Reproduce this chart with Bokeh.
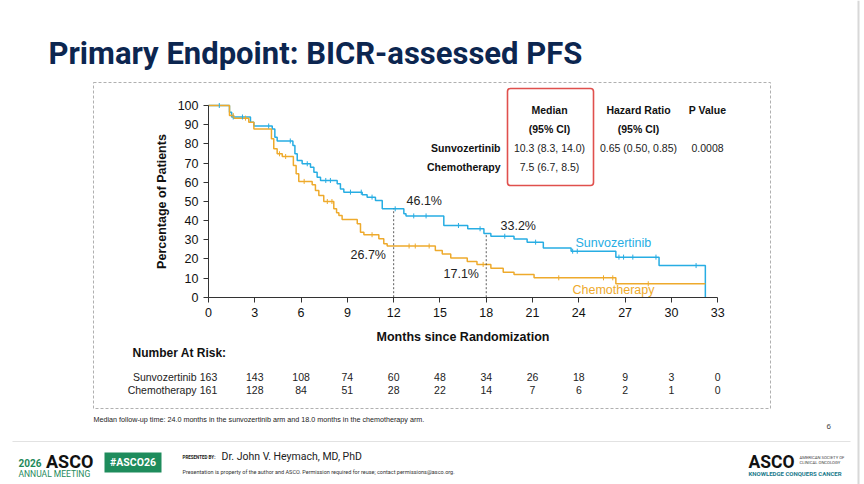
import numpy as np
from bokeh.plotting import figure
from bokeh.models import Range1d, LinearAxis, FixedTicker, Label, BoxAnnotation, ColumnDataSource
from bokeh.core.properties import value
from bokeh.embed import file_html
from bokeh.resources import INLINE

# ---------------- data ----------------
sun_t = [0, 1.36, 1.5, 2.72, 2.94, 4.13, 4.3, 4.45, 5.47, 5.6, 5.75, 6.07, 6.61, 6.83, 7.04, 7.26,
         8.34, 8.55, 8.77, 9.96, 10.28, 10.82, 11.26, 12.66, 12.8, 15.25, 16.8, 17.85, 18.3,
         19.8, 20.65, 21.7, 23.5, 26.4, 29.2, 32.2]
sun_s = [100, 96.5, 94.0, 91.3, 89.3, 87.8, 83.5, 81.5, 79.1, 74.8, 71.3, 69.6, 67.8, 65.2, 62.6, 60.9,
         59.2, 56.5, 54.8, 53.4, 52.2, 50.4, 46.1, 43.5, 42.4, 37.4, 35.7, 33.2, 31.8,
         30.4, 28.7, 25.6, 24.0, 20.9, 16.5, 0]
chemo_t = [0, 1.36, 1.64, 2.61, 2.94, 4.08, 4.23, 4.45, 4.78, 5.5, 5.68, 5.85, 6.72, 6.93, 7.15, 7.47,
           8.12, 8.3, 8.45, 8.66, 9.64, 9.85, 10.07, 11.04, 11.36, 11.58, 14.7, 15.15, 15.7, 16.77,
           17.4, 18.3, 19.1, 19.8, 21.1, 26.4, 32.2]
chemo_s = [100, 94.8, 93.4, 91.3, 87.8, 82.6, 77.4, 74.8, 73.4, 68.7, 64.4, 60.4, 58.6, 55.7, 53.1, 49.9,
           46.1, 44.0, 42.6, 40.5, 38.3, 33.9, 32.6, 30.5, 27.9, 26.7, 24.4, 22.6, 20.4, 18.6,
           17.1, 15.1, 13.0, 11.8, 10.1, 7.0, 7.0]
sun_cens = [0.7, 1.6, 2.2, 3.9, 5.3, 6.4, 7.6, 7.9, 9.2, 9.9, 10.6, 12.1, 13.3, 14.1, 16.2, 17.6,
            19.2, 21.2, 23.6, 23.9, 26.6, 26.9, 27.5, 29.0, 31.6]
chemo_cens = [1.6, 2.4, 4.6, 5.0, 6.2, 7.7, 8.0, 10.6, 13.0, 13.4, 14.3, 17.8, 22.7, 25.6, 26.2, 28.5]

landmark_t = [12, 18]
landmark_sun = [46.1, 33.2]
landmark_chemo = [26.7, 17.1]

x_ticks = [0, 3, 6, 9, 12, 15, 18, 21, 24, 27, 30, 33]
y_ticks = [0, 10, 20, 30, 40, 50, 60, 70, 80, 90, 100]
risk_t = [0, 3, 6, 9, 12, 15, 18, 21, 24, 27, 30, 33]
risk_sun = [163, 143, 108, 74, 60, 48, 34, 26, 18, 9, 3, 0]
risk_chemo = [161, 128, 84, 51, 28, 22, 14, 7, 6, 2, 1, 0]

table_cols = ["Median\n(95% CI)", "Hazard Ratio\n(95% CI)", "P Value"]
table_rows = ["Sunvozertinib", "Chemotherapy"]
table_vals = [["10.3 (8.3, 14.0)", "0.65 (0.50, 0.85)", "0.0008"],
              ["7.5 (6.7, 8.5)", "", ""]]

# ---------------- geometry (pixel mapping) ----------------
W, H = 864, 484
X0, PX = 208.0, 15.43   # px of month 0, px per month
Y0, PY = 296.7, 1.917   # px of 0 %, px per %

def fx(px):
    return (px - X0) / PX

def fy(py):
    return (Y0 - py) / PY

CYAN = "#27ade3"
ORANGE = "#eeaa2c"
NAVY = "#0c2650"
FONT = "Liberation Sans"
NARROW = "Roboto"

p = figure(width=W, height=H, output_backend="svg", toolbar_location=None,
           x_range=Range1d(fx(0), fx(W)), y_range=Range1d(fy(H), fy(0)),
           x_axis_type=None, y_axis_type=None, min_border=0,
           background_fill_color="white", border_fill_color="white")
p.grid.visible = False
p.outline_line_color = None

# axes
xa = LinearAxis(fixed_location=0, bounds=(0, 33), ticker=FixedTicker(ticks=x_ticks))
ya = LinearAxis(fixed_location=0, bounds=(0, 100), ticker=FixedTicker(ticks=y_ticks))
for ax in (xa, ya):
    ax.axis_line_color = "#333333"
    ax.major_tick_line_color = "#333333"
    ax.major_tick_out = 5
    ax.major_tick_in = 0
    ax.minor_tick_line_color = None
    ax.major_label_text_font = FONT
    ax.major_label_text_font_size = "12.5px"
    ax.major_label_text_color = "#111111"
    ax.axis_label_text_font = FONT
    ax.axis_label_text_font_style = "bold"
    ax.axis_label_text_font_size = "12.5px"
    ax.axis_label_text_color = "#111111"
xa.axis_label = "Months since Randomization"
xa.major_label_standoff = 6
xa.axis_label_standoff = 9
ya.axis_label = "Percentage of Patients"
ya.major_label_standoff = 5
ya.axis_label_standoff = 6
p.add_layout(xa, "below")
p.add_layout(ya, "left")

# outer dashed frame
p.add_layout(BoxAnnotation(left=fx(93), right=fx(770), top=fy(82), bottom=fy(408),
                           fill_alpha=0, line_color="#b0b0b0", line_alpha=1,
                           line_dash="3 2", line_width=1))
# red box around medians
p.add_layout(BoxAnnotation(left=fx(507), right=fx(593), top=fy(88), bottom=fy(185),
                           fill_alpha=0, line_color="#e0504d", line_alpha=1,
                           line_width=1.6, border_radius=3))

# curves
p.step(sun_t, sun_s, mode="after", line_color=CYAN, line_width=1.5)
p.step(chemo_t, chemo_s, mode="after", line_color=ORANGE, line_width=1.5)

def surv_at(ts, ss, t):
    idx = np.searchsorted(np.array(ts), np.array(t), side="right") - 1
    return list(np.array(ss)[idx])

p.scatter(sun_cens, surv_at(sun_t, sun_s, sun_cens), marker="dash", angle=np.pi / 2,
          size=5, line_color=CYAN, line_width=1)
p.scatter(chemo_cens, surv_at(chemo_t, chemo_s, chemo_cens), marker="dash", angle=np.pi / 2,
          size=5, line_color=ORANGE, line_width=1)

# landmark dotted lines
p.segment(x0=landmark_t, y0=[0, 0], x1=landmark_t, y1=landmark_sun,
          line_color="#333333", line_dash="2 2", line_width=0.8)

def lab(px, py, text, size="12px", color="#111111", align="left", baseline="middle",
        style="normal", font=FONT, angle=0):
    p.add_layout(Label(x=fx(px), y=fy(py), text=text, text_font=font,
                       text_font_size=size, text_color=color, text_align=align,
                       text_baseline=baseline, text_font_style=style, angle=angle))

# landmark annotations
lab(406, 200, f"{landmark_sun[0]}%", size="12.5px", color="#222222")
lab(500, 225, f"{landmark_sun[1]}%", size="12.5px", color="#222222")
lab(350, 254, f"{landmark_chemo[0]}%", size="12.5px", color="#222222")
lab(443, 273, f"{landmark_chemo[1]}%", size="12.5px", color="#222222")
lab(575, 242, "Sunvozertinib", size="12.5px", color=CYAN)
lab(572, 289, "Chemotherapy", size="12.5px", color=ORANGE)

# summary table
col_x = [549, 638, 707]
for cx, head in zip(col_x, table_cols):
    parts = head.split("\n")
    lab(cx, 109, parts[0], size="10.5px", align="center", style="bold")
    if len(parts) > 1:
        lab(cx, 128, parts[1], size="10.5px", align="center", style="bold")
row_y = [147, 166]
for ry, rname, rvals in zip(row_y, table_rows, table_vals):
    lab(500, ry, rname, size="10.5px", align="right", style="bold")
    for cx, v in zip(col_x, rvals):
        if v:
            lab(cx, ry, v, size="10.5px", align="center", color="#222222")

# number at risk
lab(132, 352, "Number At Risk:", size="12px", style="bold")
src_r = ColumnDataSource(dict(t=risk_t, s=[fy(376)] * len(risk_t), c=[fy(389)] * len(risk_t),
                              a=[str(v) for v in risk_sun], b=[str(v) for v in risk_chemo]))
p.text(x="t", y="s", text="a", source=src_r, text_font=value(FONT), text_font_size="10.5px",
       text_align="center", text_baseline="middle", text_color="#222222")
p.text(x="t", y="c", text="b", source=src_r, text_font=value(FONT), text_font_size="10.5px",
       text_align="center", text_baseline="middle", text_color="#222222")
lab(196, 376, "Sunvozertinib", size="10.5px", align="right", color="#222222")
lab(196, 389, "Chemotherapy", size="10.5px", align="right", color="#222222")

# footnote & page number
lab(93, 419, "Median follow-up time: 24.0 months in the sunvozertinib arm and 18.0 months in the chemotherapy arm.",
    size="7.2px", color="#222222")
lab(826, 426, "6", size="8px", color="#444444")

# title
lab(48, 53, "Primary Endpoint: BICR-assessed PFS", size="31px", color=NAVY, style="bold",
    baseline="alphabetic", font=NARROW)

# footer
p.add_layout(BoxAnnotation(left=fx(12), right=fx(850), top=fy(440.5), bottom=fy(441.5),
                           fill_color="#e2e2e2", fill_alpha=1, line_color=None))
p.add_layout(BoxAnnotation(left=fx(857), right=fx(859), top=fy(0), bottom=fy(H),
                           fill_color="#d8d8d8", fill_alpha=1, line_color=None))
lab(18, 462, "2026", size="10px", color="#1f8a5b", style="bold", font=NARROW)
lab(45.5, 461, "ASCO", size="18px", color="#111111", style="bold", font=NARROW)
lab(18, 473, "ANNUAL MEETING", size="8.5px", color="#1f8a5b", font=NARROW)
p.add_layout(BoxAnnotation(left=fx(104), right=fx(161), top=fy(452), bottom=fy(472),
                           fill_color="#1e8c5c", fill_alpha=1, line_color=None))
lab(132.5, 462, "#ASCO26", size="10.5px", color="white", style="bold", align="center",
    font=NARROW)
lab(182, 457, "PRESENTED BY:", size="4.5px", color="#222222", style="bold", font=NARROW)
lab(221, 456, "Dr. John V. Heymach, MD, PhD", size="10.5px", color="#222222", font=NARROW)
lab(182, 471, "Presentation is property of the author and ASCO. Permission required for reuse; contact permissions@asco.org.",
    size="5.5px", color="#333333", font=NARROW)
lab(748, 461, "ASCO", size="17.5px", color="#111111", style="bold", font=NARROW)
lab(799, 457, "AMERICAN SOCIETY OF", size="4.2px", color="#444444", font=NARROW)
lab(799, 462, "CLINICAL ONCOLOGY", size="4.2px", color="#444444", font=NARROW)
lab(748, 473, "KNOWLEDGE CONQUERS CANCER", size="6px", color="#1a7a8c", style="bold", font=NARROW)

open("out.html", "w").write(file_html(p, INLINE))
